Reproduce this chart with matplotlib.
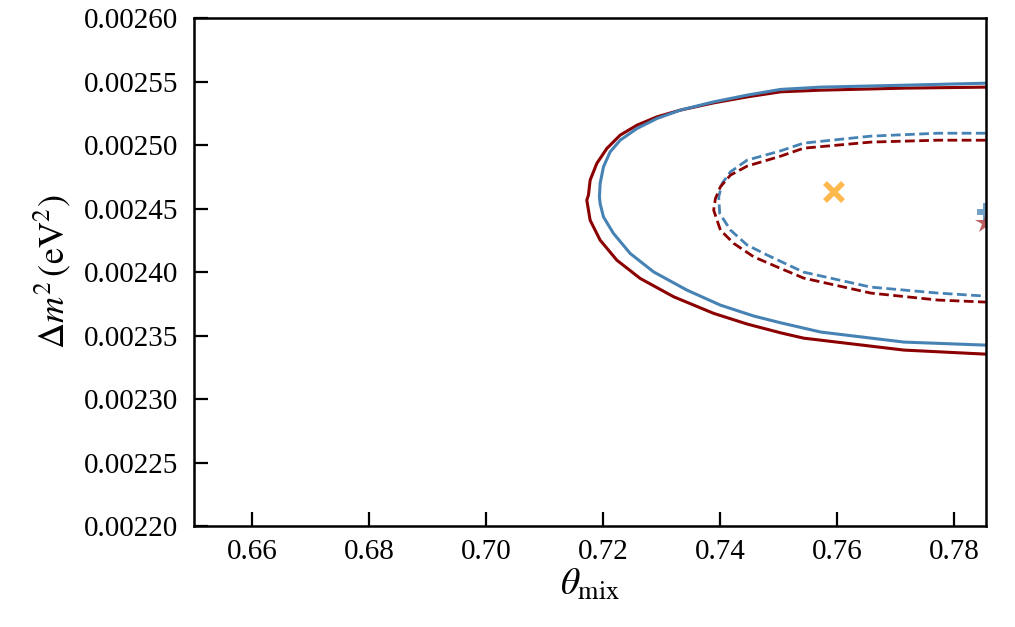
import numpy as np
import matplotlib
matplotlib.use("Agg")
import matplotlib.pyplot as plt

plt.rcParams['font.family'] = ['Liberation Serif', 'DejaVu Serif']
plt.rcParams['mathtext.fontset'] = 'stix'

# contours (theta, dm2), traced top-right -> left -> bottom-right
red_solid_th = [0.7854, 0.77142, 0.75720, 0.75034, 0.74463, 0.73890, 0.73320, 0.72920, 0.72577,
                0.72291, 0.72063, 0.71891, 0.71777, 0.71748, 0.71720, 0.71777, 0.71948, 0.72234,
                0.72634, 0.73205, 0.73890, 0.74463, 0.75034, 0.75428, 0.77142, 0.7854]
red_solid_dm = [0.0025457, 0.0025449, 0.0025433, 0.0025420, 0.0025380, 0.0025333, 0.0025276,
                0.0025223, 0.0025157, 0.0025079, 0.0024974, 0.0024856, 0.0024724, 0.0024606,
                0.0024567, 0.0024409, 0.0024252, 0.0024094, 0.0023950, 0.0023806, 0.0023675,
                0.0023591, 0.0023522, 0.0023480, 0.0023386, 0.0023354]

blue_solid_th = [0.7854, 0.77142, 0.75720, 0.75034, 0.74463, 0.73890, 0.73320, 0.72920, 0.72577,
                 0.72291, 0.72119, 0.72005, 0.71948, 0.71936, 0.71948, 0.72005, 0.72176, 0.72462,
                 0.72862, 0.73434, 0.74005, 0.74576, 0.75034, 0.75720, 0.77142, 0.7854]
blue_solid_dm = [0.0025488, 0.0025472, 0.0025457, 0.0025439, 0.0025394, 0.0025341, 0.0025276,
                 0.0025210, 0.0025131, 0.0025039, 0.0024947, 0.0024829, 0.0024698, 0.0024593,
                 0.0024540, 0.0024435, 0.0024305, 0.0024147, 0.0024002, 0.0023858, 0.0023740,
                 0.0023654, 0.0023601, 0.0023528, 0.0023449, 0.0023425]

blue_dash_th = [0.7854, 0.77725, 0.76577, 0.75428, 0.75034, 0.74463, 0.74177, 0.74034, 0.73976,
                0.73993, 0.74177, 0.74463, 0.74806, 0.75428, 0.76577, 0.77725, 0.7854]
blue_dash_dm = [0.0025094, 0.0025094, 0.0025071, 0.0025016, 0.0024955, 0.0024882, 0.0024790,
                0.0024698, 0.0024593, 0.0024462, 0.0024331, 0.0024213, 0.0024134, 0.0024000,
                0.0023882, 0.0023835, 0.0023811]

red_dash_th = [0.7854, 0.77725, 0.76577, 0.75428, 0.75034, 0.74463, 0.74177, 0.74005, 0.73920,
               0.73890, 0.74005, 0.74233, 0.74576, 0.75034, 0.75428, 0.76577, 0.77725, 0.7854]
red_dash_dm = [0.0025039, 0.0025039, 0.0025024, 0.0024976, 0.0024913, 0.0024835, 0.0024764,
               0.0024672, 0.0024580, 0.0024488, 0.0024331, 0.0024226, 0.0024120, 0.0024029,
               0.0023953, 0.0023835, 0.0023780, 0.0023764]

# best-fit points
x_pt = (0.75943, 0.0024630)
plus_pt = (0.7854, 0.0024472)
star_pt = (0.7854, 0.0024386)

xticks = [0.66, 0.68, 0.70, 0.72, 0.74, 0.76, 0.78]
yticks = [0.00220, 0.00225, 0.00230, 0.00235, 0.00240, 0.00245, 0.00250, 0.00255, 0.00260]

fig = plt.figure(figsize=(10.15, 6.27), dpi=100)
ax = fig.add_axes([0.191, 0.161, 0.780, 0.810])

ax.plot(red_solid_th, red_solid_dm, color='darkred', lw=2.2, solid_joinstyle='round')
ax.plot(blue_solid_th, blue_solid_dm, color='steelblue', lw=2.2, solid_joinstyle='round')
ax.plot(blue_dash_th, blue_dash_dm, color='steelblue', lw=2.0, ls=(0, (3.5, 1.6)))
ax.plot(red_dash_th, red_dash_dm, color='darkred', lw=2.0, ls=(0, (3.5, 1.6)))

ax.plot(*x_pt, marker='x', color='#fdb94d', ms=13, mew=4, ls='none')
ax.plot(*plus_pt, marker='P', color='steelblue', alpha=0.75, ms=13, mew=0, ls='none')
ax.plot(*star_pt, marker='*', color='#b03a3a', alpha=0.8, ms=16, mew=0, ls='none')

ax.set_xlim(0.65, np.pi / 4)
ax.set_ylim(0.0022, 0.0026)
ax.set_xticks(xticks)
ax.set_xticklabels([f"{t:.2f}" for t in xticks])
ax.set_yticks(yticks)
ax.set_yticklabels([f"{t:.5f}" for t in yticks])

ax.tick_params(direction='in', length=10, width=1.6, labelsize=21, pad=11,
               top=False, right=False)
ax.tick_params(axis='x', pad=9)
for sp in ax.spines.values():
    sp.set_linewidth(1.8)

ax.set_xlabel(r'$\theta_{\rm mix}$', fontsize=27, labelpad=2)
ax.set_ylabel(r'$\Delta m^2\,(\rm eV^2)$', fontsize=26, labelpad=8)

fig.savefig('out.png', dpi=100)
